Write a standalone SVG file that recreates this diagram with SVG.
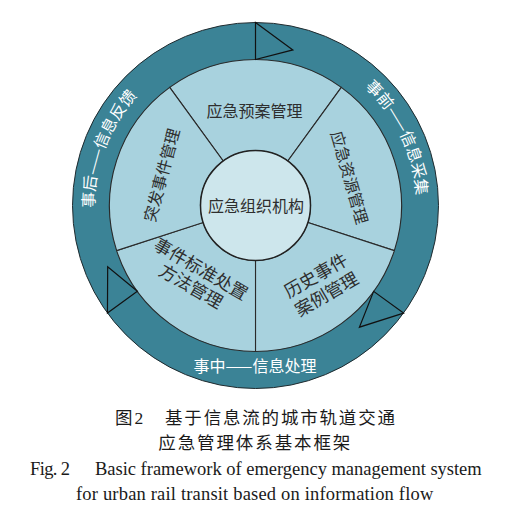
<svg xmlns="http://www.w3.org/2000/svg" width="513" height="514" viewBox="0 0 513 514">
  <defs>
    <style>
      .ring { fill: #3B8396; stroke: #1f2a2e; stroke-width: 1; }
      .sector { fill: #A8D2DE; stroke: #2a2a2a; stroke-width: 1.1; }
      .core { fill: #CDE6EC; stroke: #222; stroke-width: 1.5; }
      .arrow { fill: #3B8396; stroke: #111; stroke-width: 1.2; stroke-linejoin: miter; }
      .rt { font-family: "Noto Sans CJK SC", "DejaVu Sans", sans-serif; font-size: 16px; fill: #ffffff; }
      .st { font-family: "Noto Sans CJK SC", "DejaVu Sans", sans-serif; font-size: 16px; fill: #2e2e2e; text-anchor: middle; }
      .st2 { font-family: "Noto Sans CJK SC", "DejaVu Sans", sans-serif; font-size: 17.5px; fill: #2e2e2e; text-anchor: middle; }
      .capc { font-family: "Liberation Serif", "Noto Sans CJK SC", serif; font-size: 17.5px; fill: #1a1a1a; }
      .cape { font-family: "Liberation Serif", serif; font-size: 18.5px; fill: #1a1a1a; }
    </style>
    <path id="arcRight" d="M309.24,53.74 A161,161 0 0 1 407.26,259.24"/>
    <path id="arcLeft" d="M108.42,270.98 A161,161 0 0 1 190.02,58.42"/>
  </defs>

  <g id="ring">
    <circle class="ring" cx="255.5" cy="205.5" r="183"/>
    <text class="rt" text-anchor="middle"><textPath href="#arcRight" startOffset="50%">事前——信息采集</textPath></text>
    <text class="rt" text-anchor="middle"><textPath href="#arcLeft" startOffset="50%">事后——信息反馈</textPath></text>
    <text class="rt" x="255" y="371.5" text-anchor="middle">事中——信息处理</text>
  </g>

  <g id="sector-plan">
    <path class="sector" d="M169.68,87.39 A146,146 0 0 1 341.32,87.39 L287.83,161 A55,55 0 0 0 223.17,161 Z"/>
    <text class="st" x="254.5" y="116.5">应急预案管理</text>
  </g>
  <g id="sector-resource">
    <path class="sector" d="M341.32,87.39 A146,146 0 0 1 394.36,250.61 L307.81,222.5 A55,55 0 0 0 287.83,161 Z"/>
    <text class="st" transform="translate(349.5,177.5) rotate(74)" x="0" y="6">应急资源管理</text>
  </g>
  <g id="sector-history">
    <path class="sector" d="M394.36,250.61 A146,146 0 0 1 255.5,351.5 L255.5,260.5 A55,55 0 0 0 307.81,222.5 Z"/>
    <g transform="translate(321.2,285) rotate(-30)">
      <text class="st2" x="0" y="-4.5">历史事件</text>
      <text class="st2" x="0" y="17">案例管理</text>
    </g>
  </g>
  <g id="sector-standard">
    <path class="sector" d="M255.5,351.5 A146,146 0 0 1 116.64,250.61 L203.19,222.5 A55,55 0 0 0 255.5,260.5 Z"/>
    <g transform="translate(195.8,278) rotate(30)">
      <text class="st2" x="0" y="-4">事件标准处置</text>
      <text class="st2" x="0" y="16">方法管理</text>
    </g>
  </g>
  <g id="sector-incident">
    <path class="sector" d="M116.64,250.61 A146,146 0 0 1 169.68,87.39 L223.17,161 A55,55 0 0 0 203.19,222.5 Z"/>
    <text class="st" transform="translate(161.7,175) rotate(-75)" x="0" y="6">突发事件管理</text>
  </g>

  <g id="core">
    <circle class="core" cx="255.5" cy="205.5" r="55"/>
    <text class="st" x="256" y="212">应急组织机构</text>
  </g>

  <g id="connectors">
    <polygon class="arrow" points="255.5,22.5 292.85,49.92 255.5,59.5"/>
    <polygon class="arrow" points="403.55,313.07 359.4,327.17 373.61,291.32"/>
    <polygon class="arrow" points="137.39,291.32 107.68,266.73 107.45,313.07"/>
  </g>

  <g id="caption">
    <text class="capc" x="115" y="423.8">图</text>
    <text class="capc" x="134.5" y="423.8">2</text>
    <text class="capc" x="165" y="423.8" textLength="230" lengthAdjust="spacing">基于信息流的城市轨道交通</text>
    <text class="capc" x="158.3" y="449" textLength="192" lengthAdjust="spacing">应急管理体系基本框架</text>
    <text class="cape" x="30" y="475" textLength="40" lengthAdjust="spacing">Fig. 2</text>
    <text class="cape" x="95" y="475" textLength="386.7" lengthAdjust="spacing">Basic framework of emergency management system</text>
    <text class="cape" x="76" y="500" textLength="357.3" lengthAdjust="spacing">for urban rail transit based on information flow</text>
  </g>
</svg>
